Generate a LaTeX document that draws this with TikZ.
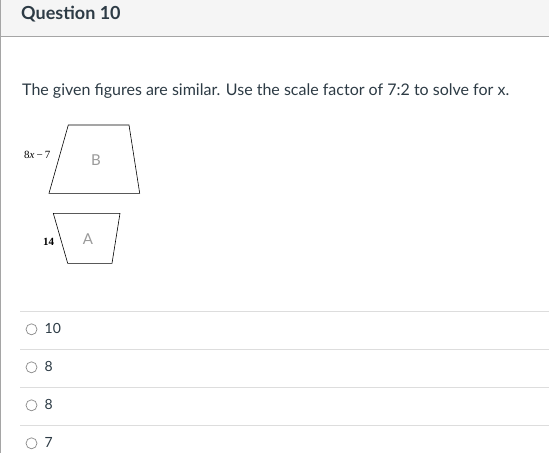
\documentclass[tikz,border=0pt]{standalone}
\usepackage{fontspec}
\setmainfont{Lato}
\newfontfamily\serifx{Liberation Serif}
\definecolor{txt}{HTML}{2D3B45}
\definecolor{hdr}{HTML}{F5F5F5}
\definecolor{hdrline}{HTML}{A5A5A5}
\definecolor{sep}{HTML}{DDDDDD}
\definecolor{radio}{HTML}{8A8A8A}
\definecolor{letter}{HTML}{9A9A9A}
\begin{document}
\begin{tikzpicture}[x=1pt,y=-1pt,
  qtext/.style={anchor=base west,inner sep=0pt,text=txt,font=\fontsize{14}{16}\selectfont},
  figlbl/.style={inner sep=0pt,text=letter,font=\fontsize{15}{17}\selectfont},
  sidelbl/.style={inner sep=0pt,text=black,font=\serifx\fontsize{11}{13}\selectfont},
  trap/.style={draw=black,line width=0.6pt},
  seprule/.style={draw=sep,line width=0.8pt},
  radiobtn/.style={circle,draw=radio,line width=0.7pt,minimum size=11pt,inner sep=0pt}]
\useasboundingbox (0,0) rectangle (549,453);
\fill[white] (0,0) rectangle (549,453);
% header
\fill[hdr] (0,0) rectangle (549,36);
\draw[hdrline,line width=1pt] (0,36) -- (549,36);
\draw[hdrline,line width=1.2pt] (0.6,0) -- (0.6,453);
\node[anchor=base west,inner sep=0pt,text=txt,font=\bfseries\fontsize{18}{20}\selectfont] (title) at (21,19) {Question 10};
\node[qtext,font=\fontsize{16}{18}\selectfont] (prompt) at (22,95) {The given figures are similar. Use the scale factor of 7:2 to solve for x.};
% figure B
\draw[trap] (68.3,125) -- (129,125) -- (139.7,193.3) -- (49,193.3) -- cycle;
\node[figlbl] (B) at (96,160) {B};
\node[sidelbl,anchor=base west] (lb) at (24,158.5) {8\textit{x}\hspace{2pt}\textminus\hspace{2pt}7};
% figure A
\draw[trap] (53.3,213.3) -- (120,213.3) -- (112,263.3) -- (67.7,263.3) -- cycle;
\node[figlbl] (A) at (88,239) {A};
\node[sidelbl,anchor=base west,font=\serifx\bfseries\fontsize{11}{13}\selectfont] (la) at (43,245) {14};
% answers
\draw[seprule] (20,311) -- (549,311);
\draw[seprule] (20,349.3) -- (549,349.3);
\draw[seprule] (20,387.7) -- (549,387.7);
\draw[seprule] (20,425.7) -- (549,425.7);
\node[radiobtn] (r1) at (31.5,329.3) {};
\node[radiobtn] (r2) at (31.5,367.3) {};
\node[radiobtn] (r3) at (31.5,405.3) {};
\node[radiobtn] (r4) at (31.5,443.3) {};
\node[qtext] (o1) at (44.5,333) {10};
\node[qtext] (o2) at (44.5,371) {8};
\node[qtext] (o3) at (44.5,409) {8};
\node[qtext] (o4) at (44.5,447) {7};
\end{tikzpicture}
\end{document}
